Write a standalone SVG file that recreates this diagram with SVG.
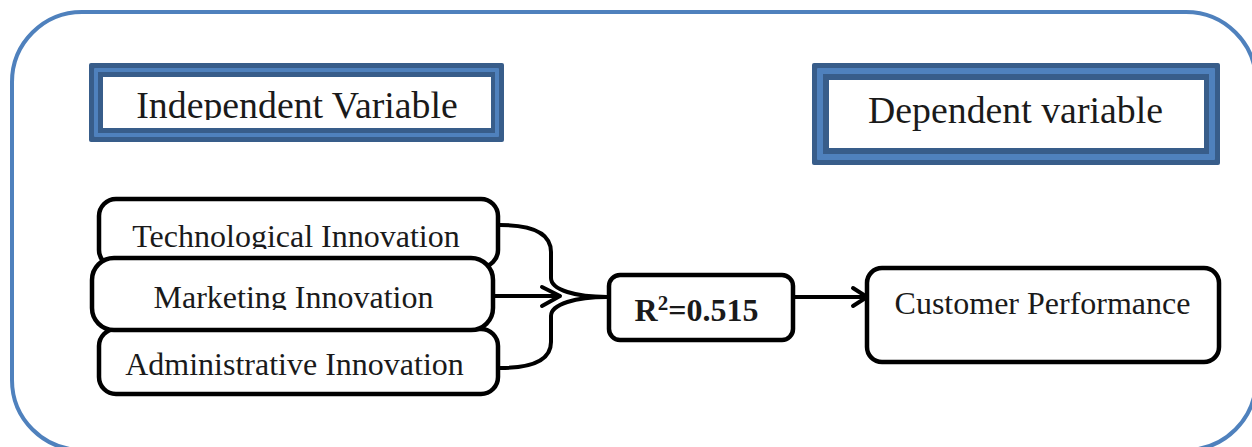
<svg xmlns="http://www.w3.org/2000/svg" width="1252" height="447" viewBox="0 0 1252 447">
  <style>
    .frame { fill: none; stroke: #4f81bd; stroke-width: 4; }
    .box { fill: #ffffff; stroke: #000000; stroke-width: 4.5; }
    .lbl { font-family: "Liberation Serif", "Times New Roman", serif; fill: #1a1a1a; text-anchor: middle; }
    .hdr { font-size: 37.8px; }
    .nd { font-size: 32px; }
    .bold { font-weight: bold; }
    .dark { fill: #385d8a; }
    .light { fill: #4f81bd; }
    .conn { fill: none; stroke: #000000; stroke-width: 4; stroke-linecap: round; stroke-linejoin: round; }
  </style>
  <defs>
    <clipPath id="clip-indep"><rect x="103" y="77" width="388" height="43"/></clipPath>
    <clipPath id="clip-tech"><rect x="100" y="200" width="396" height="49"/></clipPath>
    <clipPath id="clip-mkt"><rect x="94" y="260" width="397" height="50"/></clipPath>
  </defs>

  <rect width="1252" height="447" fill="#ffffff"/>

  <!-- outer rounded frame -->
  <rect class="frame" x="12" y="12" width="1244" height="438" rx="70" ry="70"/>

  <!-- header: independent variable -->
  <g id="header-independent">
    <rect class="dark" x="89" y="63" width="415" height="79" rx="2"/>
    <rect class="light" x="94" y="68" width="405" height="69" rx="1"/>
    <rect class="dark" x="98" y="72" width="397" height="61"/>
    <rect fill="#ffffff" x="103" y="77" width="388" height="51"/>
    <text class="lbl hdr" x="297" y="118" clip-path="url(#clip-indep)">Independent Variable</text>
  </g>

  <!-- header: dependent variable -->
  <g id="header-dependent">
    <rect class="dark" x="812" y="63" width="408" height="102" rx="2"/>
    <rect class="light" x="817" y="68" width="398" height="92" rx="1"/>
    <rect class="dark" x="823" y="74" width="386" height="80"/>
    <rect fill="#ffffff" x="829" y="80" width="375" height="68"/>
    <text class="lbl hdr" x="1015.5" y="123">Dependent variable</text>
  </g>

  <!-- predictor nodes -->
  <g id="node-technological">
    <rect class="box" x="99" y="199" width="399" height="68" rx="17"/>
    <text class="lbl nd" x="296" y="247" clip-path="url(#clip-tech)">Technological Innovation</text>
  </g>
  <g id="node-administrative">
    <rect class="box" x="99" y="329" width="399" height="65" rx="17"/>
    <text class="lbl nd" x="294.5" y="375">Administrative Innovation</text>
  </g>
  <g id="node-marketing">
    <rect class="box" x="92" y="258" width="401" height="72" rx="22"/>
    <text class="lbl nd" x="293.5" y="308" clip-path="url(#clip-mkt)">Marketing Innovation</text>
  </g>

  <!-- model fit node -->
  <g id="node-r2">
    <rect class="box" x="609" y="275" width="184" height="65" rx="11"/>
    <text class="lbl nd bold" x="696.5" y="321">R<tspan font-size="21" dy="-11">2</tspan><tspan dy="11">=0.515</tspan></text>
  </g>

  <!-- outcome node -->
  <g id="node-customer">
    <rect class="box" x="867" y="268" width="352" height="94" rx="15"/>
    <text class="lbl nd" x="1042.5" y="314">Customer Performance</text>
  </g>

  <!-- connectors -->
  <g id="connectors">
    <!-- brace joining the three predictors -->
    <path class="conn" d="M500,225 C532,225 551,233 551,252 L551,278 C551,290 576,297 607,297"/>
    <path class="conn" d="M607,297 C576,297 551,304 551,316 L551,342 C551,360 532,368 500,368"/>
    <!-- marketing arrow -->
    <path class="conn" d="M494,296 L559,296"/>
    <path class="conn" d="M542,287 L560,296 L542,306"/>
    <!-- R2 to customer performance -->
    <path class="conn" d="M795,297 L866,297"/>
    <path class="conn" d="M853,288 L867,297 L853,306"/>
  </g>
</svg>
